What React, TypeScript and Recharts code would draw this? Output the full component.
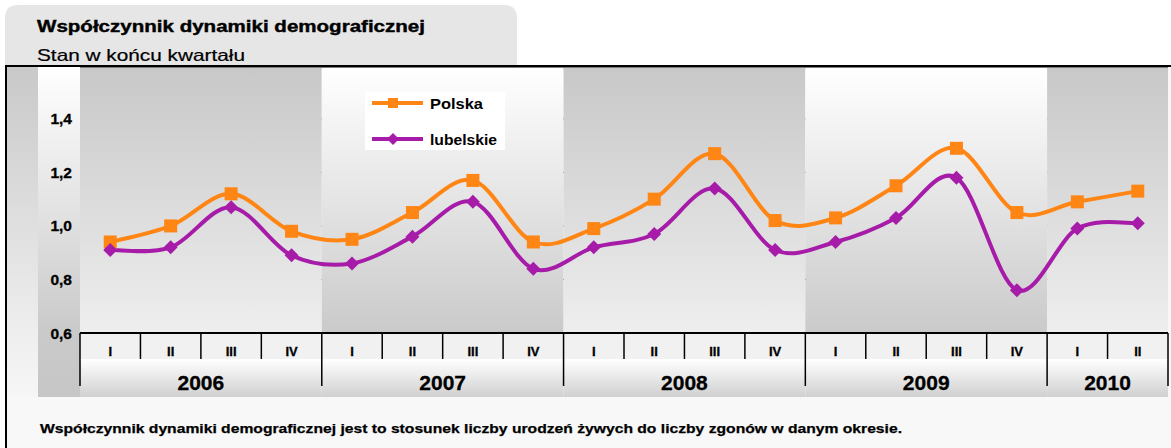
import React from 'react';
import { LineChart, Line, XAxis, YAxis, CartesianGrid, ReferenceArea, Legend } from 'recharts';

const periods = [
  '2006 I', '2006 II', '2006 III', '2006 IV',
  '2007 I', '2007 II', '2007 III', '2007 IV',
  '2008 I', '2008 II', '2008 III', '2008 IV',
  '2009 I', '2009 II', '2009 III', '2009 IV',
  '2010 I', '2010 II',
];
const quarterLabels = ['I', 'II', 'III', 'IV', 'I', 'II', 'III', 'IV', 'I', 'II', 'III', 'IV', 'I', 'II', 'III', 'IV', 'I', 'II'];
const yearOfPeriod = [
  '2006', '2006', '2006', '2006', '2007', '2007', '2007', '2007',
  '2008', '2008', '2008', '2008', '2009', '2009', '2009', '2009', '2010', '2010',
];
const yearLabels = ['2006', '2007', '2008', '2009', '2010'];
const polska = [0.94, 1.0, 1.12, 0.98, 0.95, 1.05, 1.17, 0.94, 0.99, 1.1, 1.27, 1.02, 1.03, 1.15, 1.29, 1.05, 1.09, 1.13];
const lubelskie = [0.91, 0.92, 1.07, 0.89, 0.86, 0.96, 1.09, 0.84, 0.92, 0.97, 1.14, 0.91, 0.94, 1.03, 1.18, 0.76, 0.99, 1.01];
const yTicks = [0.6, 0.8, 1.0, 1.2, 1.4];
const seriesNames = ['Polska', 'lubelskie'];

const titleText = 'Współczynnik dynamiki demograficznej';
const subtitleText = 'Stan w końcu kwartału';
const captionText = 'Współczynnik dynamiki demograficznej jest to stosunek liczby urodzeń żywych do liczby zgonów w danym okresie.';

const data = periods.map((p, i) => ({
  period: p,
  Polska: polska[i],
  lubelskie: lubelskie[i],
}));

const ORANGE = '#FF8514';
const PURPLE = '#A61CA8';
const FONT = '"Liberation Sans", Arial, Helvetica, sans-serif';

const W = 1171;
const H = 448;
const MARGIN = { top: 68, right: 3, bottom: 51, left: 20 };
const YAXIS_W = 60;
const XAXIS_H = 64;
const PLOT_LEFT = MARGIN.left + YAXIS_W;
const PLOT_RIGHT = W - MARGIN.right;
const PLOT_BOTTOM = H - MARGIN.bottom - XAXIS_H;
const BAND = (PLOT_RIGHT - PLOT_LEFT) / periods.length;

// Excel-like smoothed line (Catmull-Rom style bezier)
function excelCurve(context: any) {
  let pts: [number, number][] = [];
  return {
    areaStart() {},
    areaEnd() {},
    lineStart() {
      pts = [];
    },
    lineEnd() {
      const n = pts.length;
      if (!n) return;
      context.moveTo(pts[0][0], pts[0][1]);
      for (let i = 0; i < n - 1; i++) {
        const p0 = pts[Math.max(0, i - 1)];
        const p1 = pts[i];
        const p2 = pts[i + 1];
        const p3 = pts[Math.min(n - 1, i + 2)];
        context.bezierCurveTo(
          p1[0] + (p2[0] - p0[0]) / 6,
          p1[1] + (p2[1] - p0[1]) / 6,
          p2[0] - (p3[0] - p1[0]) / 6,
          p2[1] - (p3[1] - p1[1]) / 6,
          p2[0],
          p2[1]
        );
      }
    },
    point(x: number, y: number) {
      pts.push([+x, +y]);
    },
  };
}

function squareDot(props: any) {
  const { cx, cy, index } = props;
  if (cx == null || cy == null) return <g key={`sq-${index}`} />;
  const s = 13;
  return <rect key={`sq-${index}`} x={cx - s / 2} y={cy - s / 2} width={s} height={s} fill={ORANGE} />;
}

function diamondDot(props: any) {
  const { cx, cy, index } = props;
  if (cx == null || cy == null) return <g key={`dm-${index}`} />;
  const r = 7;
  return (
    <path
      key={`dm-${index}`}
      d={`M${cx},${cy - r} L${cx + r},${cy} L${cx},${cy + r} L${cx - r},${cy} Z`}
      fill={PURPLE}
    />
  );
}

function QuarterTick(props: any) {
  const { x, payload } = props;
  const i = payload.index;
  const half = BAND / 2;
  const yr = yearOfPeriod[i];
  const isYearStart = i === 0 || yearOfPeriod[i - 1] !== yr;
  const isLast = i === periods.length - 1;
  const nInYear = yearOfPeriod.filter((y) => y === yr).length;
  const top = PLOT_BOTTOM;
  return (
    <g>
      <rect x={x - half} y={top + 1} width={BAND} height={25} fill="#f1f1f1" />
      {isYearStart && (
        <rect x={x - half} y={top + 26} width={BAND * nInYear} height={38} fill="url(#yearRowGrad)" />
      )}
      <line
        x1={x - half}
        x2={x - half}
        y1={top}
        y2={isYearStart ? top + 53 : top + 26}
        stroke="#000"
        strokeWidth={1.5}
      />
      {isLast && <line x1={x + half} x2={x + half} y1={top} y2={top + 53} stroke="#000" strokeWidth={1.5} />}
      <text x={x} y={top + 23} textAnchor="middle" fontSize={13} fontWeight="bold" fill="#000" stroke="#000" strokeWidth={0.3} fontFamily={FONT}>
        {quarterLabels[i]}
      </text>
      {isYearStart && (
        <text
          x={x - half + (BAND * nInYear) / 2}
          y={top + 57}
          textAnchor="middle"
          fontSize={21}
          fontWeight="bold"
          fill="#000"
          stroke="#000"
          strokeWidth={0.3}
          fontFamily={FONT}
        >
          {yearLabels[yearLabels.indexOf(yr)]}
        </text>
      )}
    </g>
  );
}

function BandShape(props: any) {
  const { x, y, width, height, fill } = props;
  if (x == null || y == null) return <g />;
  return <rect x={x - BAND / 2} y={y} width={width + BAND} height={height} fill={fill} />;
}

function LegendContent(props: any) {
  const items = (props.payload && props.payload.length ? props.payload.map((p: any) => p.value) : seriesNames) as string[];
  const lens = [53, 67];
  return (
    <div style={{ width: 140, height: 58, background: '#ffffff' }}>
      <svg width={140} height={58} style={{ display: 'block' }}>
        {items.map((name, k) => {
          const cy = k === 0 ? 11 : 47;
          const color = k === 0 ? ORANGE : PURPLE;
          return (
            <g key={name}>
              <line x1={7} x2={58} y1={cy} y2={cy} stroke={color} strokeWidth={4} />
              {k === 0 ? (
                <rect x={23} y={cy - 5} width={10} height={10} fill={color} />
              ) : (
                <path d={`M28,${cy - 6} L34,${cy} L28,${cy + 6} L22,${cy} Z`} fill={color} />
              )}
              <text
                x={65}
                y={cy + 5.5}
                fontSize={15.5}
                fontWeight="bold"
                fill="#000"
                fontFamily={FONT}
                textLength={lens[k]}
                lengthAdjust="spacingAndGlyphs"
              >
                {name}
              </text>
            </g>
          );
        })}
      </svg>
    </div>
  );
}

const yearBands = yearLabels.map((yr, k) => {
  const first = yearOfPeriod.indexOf(yr);
  const last = yearOfPeriod.lastIndexOf(yr);
  return { x1: periods[first], x2: periods[last], dark: k % 2 === 0 };
});

export default function App() {
  return (
    <div style={{ position: 'absolute', left: 0, top: 0, width: W, height: H, background: '#fff', fontFamily: FONT }}>
      <svg width={W} height={H} style={{ position: 'absolute', left: 0, top: 0 }}>
        <defs>
          <linearGradient id="colA" x1="0" y1="0" x2="0" y2="1">
            <stop offset="0" stopColor="#c9c9c9" />
            <stop offset="0.8" stopColor="#eeeeee" />
            <stop offset="1" stopColor="#f6f6f6" />
          </linearGradient>
          <linearGradient id="colB" x1="0" y1="0" x2="0" y2="1">
            <stop offset="0" stopColor="#ffffff" />
            <stop offset="0.8" stopColor="#cacaca" />
            <stop offset="1" stopColor="#c6c6c6" />
          </linearGradient>
        </defs>
        <path d="M5,67 V18 Q5,5 18,5 H504 Q517,5 517,18 V67 Z" fill="#e6e6e6" />
        <text x={37} y={32} fontSize={16.5} fontWeight="bold" fill="#000" stroke="#000" strokeWidth={0.4} fontFamily={FONT} textLength={388} lengthAdjust="spacingAndGlyphs">
          {titleText}
        </text>
        <text x={37} y={60.5} fontSize={16.5} fill="#000" stroke="#000" strokeWidth={0.2} fontFamily={FONT} textLength={208} lengthAdjust="spacingAndGlyphs">
          {subtitleText}
        </text>
        <rect x={6} y={66} width={1200} height={420} fill="#f8f8f8" stroke="#000" strokeWidth={2} />
        <rect x={7} y={67} width={31} height={330} fill="url(#colA)" />
        <rect x={38} y={67} width={42} height={330} fill="url(#colB)" />
        <text x={40} y={433} fontSize={13.5} fontWeight="bold" fill="#000" stroke="#000" strokeWidth={0.25} fontFamily={FONT} textLength={862} lengthAdjust="spacingAndGlyphs">
          {captionText}
        </text>
      </svg>
      <div style={{ position: 'absolute', left: 0, top: 0 }}>
        <LineChart width={W} height={H} data={data} margin={MARGIN}>
          <defs>
            <linearGradient id="darkTop" x1="0" y1="0" x2="0" y2="1">
              <stop offset="0" stopColor="#c8c8c8" />
              <stop offset="1" stopColor="#eeeeee" />
            </linearGradient>
            <linearGradient id="lightTop" x1="0" y1="0" x2="0" y2="1">
              <stop offset="0" stopColor="#ffffff" />
              <stop offset="1" stopColor="#cacaca" />
            </linearGradient>
            <linearGradient id="yearRowGrad" x1="0" y1="0" x2="0" y2="1">
              <stop offset="0" stopColor="#ffffff" />
              <stop offset="0.15" stopColor="#f8f8f8" />
              <stop offset="1" stopColor="#d0d0d0" />
            </linearGradient>
          </defs>
          {yearBands.map((b) => (
            <ReferenceArea
              key={b.x1}
              x1={b.x1}
              x2={b.x2}
              fill={b.dark ? 'url(#darkTop)' : 'url(#lightTop)'}
              fillOpacity={1}
              stroke="none"
              ifOverflow="visible"
              shape={(p: any) => <BandShape {...p} />}
            />
          ))}
          <CartesianGrid vertical={false} stroke="#000" strokeWidth={1} />
          <XAxis
            dataKey="period"
            height={XAXIS_H}
            interval={0}
            padding={{ left: BAND / 2, right: BAND / 2 }}
            tickLine={false}
            axisLine={{ stroke: '#000', strokeWidth: 2 }}
            tick={(p: any) => <QuarterTick {...p} />}
          />
          <YAxis
            width={YAXIS_W}
            domain={[0.6, 1.59]}
            ticks={yTicks}
            allowDataOverflow
            axisLine={false}
            tickLine={false}
            tickSize={0}
            tickMargin={8}
            tickFormatter={(v: number) => v.toFixed(1).replace('.', ',')}
            tick={{ fontSize: 15.5, fontWeight: 'bold', fill: '#000', stroke: '#000', strokeWidth: 0.3, fontFamily: FONT }}
          />
          <Legend
            layout="vertical"
            align="center"
            verticalAlign="middle"
            content={(p: any) => <LegendContent {...p} />}
            wrapperStyle={{ position: 'absolute', left: 365, top: 92, width: 140, height: 58, margin: 0, padding: 0 }}
          />
          <Line
            dataKey="Polska"
            name={seriesNames[0]}
            stroke={ORANGE}
            strokeWidth={4}
            type={excelCurve as any}
            dot={squareDot}
            activeDot={false}
            isAnimationActive={false}
          />
          <Line
            dataKey="lubelskie"
            name={seriesNames[1]}
            stroke={PURPLE}
            strokeWidth={4}
            type={excelCurve as any}
            dot={diamondDot}
            activeDot={false}
            isAnimationActive={false}
          />
        </LineChart>
      </div>
    </div>
  );
}
